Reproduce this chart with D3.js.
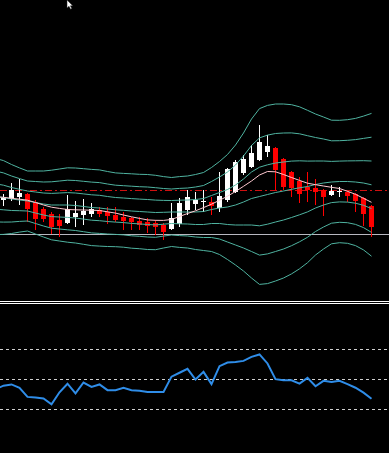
<!DOCTYPE html>
<html>
<head>
<meta charset="utf-8">
<script src="https://cdn.jsdelivr.net/npm/d3@7"></script>
<style>
  html, body { margin: 0; padding: 0; background: #000; overflow: hidden; }
</style>
</head>
<body>
<div id="chart"></div>
<script>
// candles (first one sits just off the left edge)
const opens  = [101, 100, 101, 103.5, 106, 98.3, 91, 86, 80, 77.5, 83.3, 85, 86, 90, 87.7, 85, 83.3, 81.7, 79, 78.3, 76.7, 75, 70.7, 76, 90, 96, 98, 98.3, 91.7, 99.3, 108.3, 126.7, 133.3, 140.7, 148, 151.7, 140.7, 127.7, 119.3, 113.3, 111.7, 110, 105, 109.3, 108.3, 105.7, 102.3, 94];
const highs  = [108, 106.5, 117, 121.5, 107, 100, 93, 88, 86, 105, 99.5, 101, 97.5, 92.7, 93, 93, 88, 83.3, 83, 81.7, 80, 77.3, 96.7, 101.7, 110, 108.3, 110, 103.3, 128.3, 132, 140, 145, 155, 175, 165, 153, 142, 129, 122.7, 128.3, 120.7, 111, 115, 112.7, 109.5, 107, 103.5, 95];
const lows   = [97, 94, 99.5, 95, 78, 70, 78, 66, 63.5, 76.5, 73.5, 75, 83.5, 83, 76, 78.3, 70, 70, 70, 66.7, 65, 60, 70, 73.3, 85, 90, 88.3, 85, 88.3, 98, 106.7, 125, 131.7, 139, 143, 110, 110, 103.3, 97.3, 98.3, 95, 84, 104, 103.3, 98.3, 88.3, 74, 63.3];
const closes = [104, 103, 110, 107, 91, 81.7, 80.7, 73.3, 74, 91.5, 87.3, 89.3, 91, 86, 83.3, 80, 79, 77.3, 75, 74, 72.7, 68.3, 81.7, 96.7, 103.3, 100, 99, 94, 104, 130.7, 138.3, 140.7, 147.3, 158.3, 154, 130, 112.5, 111.7, 106.7, 110, 107.3, 102.7, 109.3, 109.3, 104, 98.3, 86, 73.3];

// envelope bands (3 up, middle, 3 down)
const bandUp3  = [141.6, 139.4, 135.5, 132.1, 129, 129, 129, 129.8, 131, 132.2, 132, 131.3, 130.6, 130.1, 128.5, 127.1, 126.6, 126.2, 125.7, 125.5, 124.7, 123.4, 122.5, 123.4, 124, 125.5, 127.5, 132.5, 138.5, 145.5, 155, 167, 181, 191.4, 194.6, 196, 196, 195.3, 193.2, 189.7, 186, 183, 179.8, 179.7, 180.3, 181.6, 183.9, 186.6];
const bandUp2  = [128.9, 127.1, 124, 121.4, 119, 118.5, 118, 118.2, 119, 119.8, 119.5, 118.7, 117.9, 117.4, 116, 114.8, 114.3, 113.8, 113.3, 113, 112.3, 111.5, 111, 111.6, 112, 113, 114.5, 118.5, 123, 128, 135, 144, 154.5, 162.1, 164.9, 166.5, 167, 167.1, 166.2, 164.3, 162.5, 161, 159.2, 159.3, 159.7, 160.4, 161.6, 162.8];
const bandUp1  = [116.2, 114.8, 112.5, 110.7, 109, 108, 107, 106.6, 107, 107.4, 107, 106.1, 105.2, 104.7, 103.5, 102.5, 102, 101.4, 100.9, 100.5, 99.9, 99.6, 99.5, 99.8, 100, 100.5, 101.5, 104.5, 107.5, 110.5, 115, 121, 128, 132.8, 135.2, 137, 138, 138.9, 139.2, 138.9, 139, 139, 138.6, 138.9, 139.1, 139.2, 139.3, 139];
const bandMid  = [103.5, 102.5, 101, 100, 99, 97.5, 96, 95, 95, 95, 94.5, 93.5, 92.5, 92, 91, 90.2, 89.7, 89, 88.5, 88, 87.5, 87.7, 88, 88, 88, 88, 88.5, 90.5, 92, 93, 95, 98, 101.5, 103.5, 105.5, 107.5, 109, 110.7, 112.2, 113.5, 115.5, 117, 118, 118.5, 118.5, 118, 117, 115.2];
const bandDn1  = [90.8, 90.2, 89.5, 89.3, 89, 87, 85, 83.4, 83, 82.6, 82, 80.9, 79.8, 79.3, 78.5, 77.9, 77.4, 76.6, 76.1, 75.5, 75.1, 75.8, 76.5, 76.2, 76, 75.5, 75.5, 76.5, 76.5, 75.5, 75, 75, 75, 74.2, 75.8, 78, 80, 82.5, 85.2, 88.1, 92, 95, 97.4, 98.1, 97.9, 96.8, 94.7, 91.4];
const bandDn2  = [78.1, 77.9, 78, 78.6, 79, 76.5, 74, 71.8, 71, 70.2, 69.5, 68.3, 67.1, 66.6, 66, 65.6, 65.1, 64.2, 63.7, 63, 62.7, 63.9, 65, 64.4, 64, 63, 62.5, 62.5, 61, 58, 55, 52, 48.5, 44.9, 46.1, 48.5, 51, 54.3, 58.2, 62.7, 68.5, 73, 76.8, 77.7, 77.3, 75.6, 72.4, 67.6];
const bandDn3  = [65.4, 65.6, 66.5, 67.9, 69, 66, 63, 60.2, 59, 57.8, 57, 55.7, 54.4, 53.9, 53.5, 53.3, 52.8, 51.8, 51.3, 50.5, 50.3, 52, 53.5, 52.6, 52, 50.5, 49.5, 48.5, 45.5, 40.5, 35, 29, 22, 15.6, 16.4, 19, 22, 26.1, 31.2, 37.3, 45, 51, 56.2, 57.3, 56.7, 54.4, 50.1, 43.8];

// fast moving average (pink line)
const fastMa = [103.2, 102.7, 101.7, 100.8, 99.8, 97.5, 95, 92.8, 91.6, 90.5, 90.2, 90, 89.8, 89.5, 88.2, 86.9, 85, 83.2, 81.6, 80.1, 79.7, 79.6, 80.5, 83.5, 86.5, 89.2, 92.4, 95.8, 99.7, 103.8, 108.5, 113.7, 119, 125, 128.5, 128.2, 125.5, 122.5, 119.6, 116.8, 115.3, 114, 112.7, 111.5, 108.7, 105.7, 101.7, 97.7];

// horizontal price levels
const redLevel = 109.5;
const greyLevel = 65.5;

// oscillator panel
const rsiValues = [43.5, 45.9, 46.7, 44.5, 38.4, 38, 37.3, 33.5, 41.5, 47.2, 40.7, 48, 45.1, 46.7, 42.9, 42.9, 44.4, 42.9, 42.5, 41.7, 41.7, 41.7, 51.9, 54.5, 57.1, 50, 55.1, 46.9, 58.9, 61.3, 61.7, 62.4, 65.1, 66.7, 60.7, 50.2, 49.5, 49.5, 47.3, 51.1, 45.5, 49.1, 48.4, 49.1, 46.9, 44.5, 41.2, 37.2];
const rsiLevels = [70, 50, 30];

function drawChart() {

    // 1. Dimensions
    const dims = {
        width: 389,
        height: 453,
        priceBottom: 300,
        rsiTop: 304.5,
        rsiBottom: 454.5,
        step: 8,
        firstX: -4.5,
    };

    const svg = d3.select("#chart")
        .append("svg")
        .attr("width", dims.width)
        .attr("height", dims.height)
        .style("display", "block")
        .style("background", "#000");

    svg.append("defs").append("clipPath")
        .attr("id", "priceClip")
        .append("rect")
        .attr("x", 0)
        .attr("y", 0)
        .attr("width", dims.width)
        .attr("height", dims.priceBottom);

    // 2. Scales
    const n = opens.length;
    const xScale = d3.scaleLinear()
        .domain([0, n - 1])
        .range([dims.firstX, dims.firstX + dims.step * (n - 1)]);

    const yPrice = d3.scaleLinear()
        .domain([0, 300])
        .range([dims.priceBottom, 0]);

    const yRsi = d3.scaleLinear()
        .domain([0, 100])
        .range([dims.rsiBottom, dims.rsiTop]);

    const price = svg.append("g").attr("clip-path", "url(#priceClip)");

    // 3. Horizontal levels
    price.append("line")
        .attr("x1", 0)
        .attr("x2", dims.width)
        .attr("y1", yPrice(redLevel))
        .attr("y2", yPrice(redLevel))
        .attr("stroke", "#d01010")
        .attr("stroke-width", 1)
        .attr("stroke-dasharray", "7,3,2,3");

    price.append("line")
        .attr("x1", 0)
        .attr("x2", dims.width)
        .attr("y1", yPrice(greyLevel))
        .attr("y2", yPrice(greyLevel))
        .attr("stroke", "#b8b8c0")
        .attr("stroke-width", 1);

    // 4. Candles
    const candles = d3.range(n).map(i => ({
        i: i, o: opens[i], h: highs[i], l: lows[i], c: closes[i],
    }));
    const candleColor = d => d.c >= d.o ? "#ffffff" : "#ff0000";

    price.selectAll(".wick")
            .data(candles)
        .enter().append("line")
            .attr("class", "wick")
            .attr("x1", d => xScale(d.i))
            .attr("x2", d => xScale(d.i))
            .attr("y1", d => Math.round(yPrice(d.h)))
            .attr("y2", d => Math.round(yPrice(d.l)))
            .attr("stroke", candleColor)
            .attr("stroke-width", 1)
            .attr("shape-rendering", "crispEdges");

    price.selectAll(".body")
            .data(candles)
        .enter().append("rect")
            .attr("class", "body")
            .attr("x", d => xScale(d.i) - 2.5)
            .attr("width", 5)
            .attr("y", d => Math.round(yPrice(Math.max(d.o, d.c))))
            .attr("height", d => Math.max(1, Math.round(Math.abs(yPrice(d.o) - yPrice(d.c)))))
            .attr("fill", candleColor)
            .attr("shape-rendering", "crispEdges");

    // 5. Bands and moving average
    const priceLine = d3.line()
        .x((d, i) => xScale(i))
        .y(d => yPrice(d));

    [bandUp3, bandUp2, bandUp1, bandMid, bandDn1, bandDn2, bandDn3].forEach(band => {
        price.append("path")
            .datum(band)
            .attr("d", priceLine)
            .attr("fill", "none")
            .attr("stroke", "#4fb3a0")
            .attr("stroke-width", 1);
    });

    price.append("path")
        .datum(fastMa)
        .attr("d", priceLine)
        .attr("fill", "none")
        .attr("stroke", "#ffc8d0")
        .attr("stroke-width", 1);

    // 6. Panel separator
    [301.5, 303.5].forEach(y => {
        svg.append("line")
            .attr("x1", 0)
            .attr("x2", dims.width)
            .attr("y1", y)
            .attr("y2", y)
            .attr("stroke", "#ffffff")
            .attr("stroke-width", 1);
    });

    // 7. Oscillator
    svg.selectAll(".rsiLevel")
            .data(rsiLevels)
        .enter().append("line")
            .attr("class", "rsiLevel")
            .attr("x1", 0)
            .attr("x2", dims.width)
            .attr("y1", d => yRsi(d))
            .attr("y2", d => yRsi(d))
            .attr("stroke", "#d0d0d0")
            .attr("stroke-width", 1)
            .attr("stroke-dasharray", "3,3");

    svg.append("path")
        .datum(rsiValues)
        .attr("d", d3.line().x((d, i) => xScale(i)).y(d => yRsi(d)))
        .attr("fill", "none")
        .attr("stroke", "#2f8de8")
        .attr("stroke-width", 2);

    // mouse pointer left in the screenshot
    svg.append("path")
        .attr("d", "M67,0 L67,8 L69,6.3 L70.6,9.2 L71.8,8.6 L70.4,5.8 L72.8,5.8 Z")
        .attr("fill", "#ffffff")
        .attr("stroke", "#202020")
        .attr("stroke-width", 0.5);
}

drawChart();
</script>
</body>
</html>
